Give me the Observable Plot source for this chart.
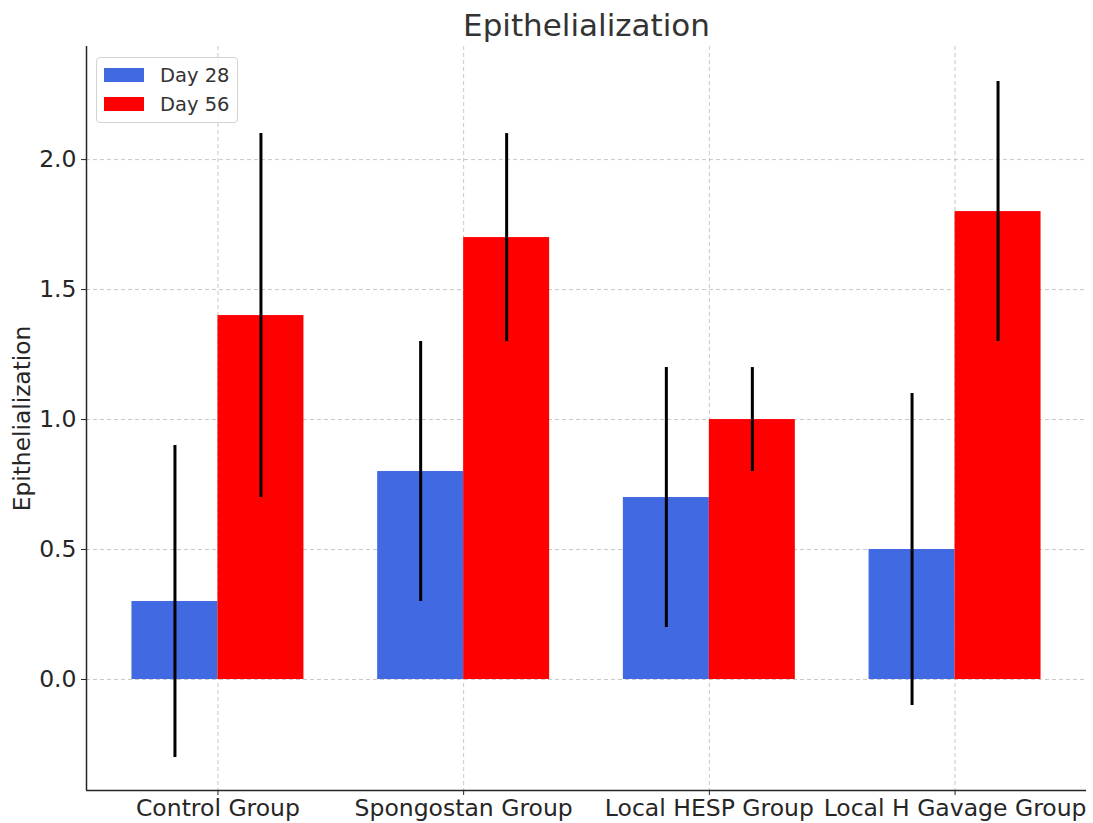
<!DOCTYPE html>
<html><head><meta charset="utf-8">
<script src="https://cdn.jsdelivr.net/npm/d3@7"></script>
<script src="https://cdn.jsdelivr.net/npm/@observablehq/plot@0.6"></script>
<style>
body{margin:0;background:#fff;font-family:"DejaVu Sans",sans-serif;}
#wrap{position:relative;width:1093px;height:823px;}
#legend{position:absolute;left:96px;top:57px;width:140px;height:64px;border:1px solid #d4d4d4;border-radius:4px;background:rgba(255,255,255,0.8);font-size:19.5px;color:#333;}
.item{position:absolute;left:7px;height:14px;display:flex;align-items:center;}
.sw{width:40px;height:14px;margin-right:16px;flex:none;}
</style></head><body>
<div id="wrap"><div id="chart"></div>
<div id="legend"><div class="item" style="top:10px"><div class="sw" style="background:#4169e1"></div>Day 28</div>
<div class="item" style="top:39px"><div class="sw" style="background:#ff0000"></div>Day 56</div></div></div>
<script>
const categories = ["Control Group","Spongostan Group","Local HESP Group","Local H Gavage Group"];
const day28 = [0.3,0.8,0.7,0.5];
const day28err = [0.6,0.5,0.5,0.6];
const day56 = [1.4,1.7,1.0,1.8];
const day56err = [0.7,0.4,0.2,0.5];
const yTicks = [0,0.5,1.0,1.5,2.0];
const barW = 0.35;

const data = [];
categories.forEach((c,i)=>{
  data.push({cat:c,i,series:"Day 28",v:day28[i],e:day28err[i],x1:i-barW,x2:i,xc:i-barW/2});
  data.push({cat:c,i,series:"Day 56",v:day56[i],e:day56err[i],x1:i,x2:i+barW,xc:i+barW/2});
});
const textColor = "#262626";
const chart = Plot.plot({
  width:1093,height:823,
  marginLeft:86,marginRight:7,marginTop:46,marginBottom:33,
  style:{fontFamily:"DejaVu Sans, sans-serif",fontSize:"23.5px",color:textColor,background:"#fff"},
  x:{domain:[-0.535,3.535],label:null},
  y:{domain:[-0.427,2.435],label:null},
  color:{domain:["Day 28","Day 56"],range:["#4169e1","#ff0000"]},
  marks:[
    Plot.gridX([0,1,2,3],{stroke:"#b0b0b0",strokeOpacity:0.7,strokeDasharray:"4,3"}),
    Plot.gridY(yTicks,{stroke:"#b0b0b0",strokeOpacity:0.7,strokeDasharray:"4,3"}),
    Plot.rect(data,{x1:"x1",x2:"x2",y1:0,y2:"v",fill:"series"}),
    Plot.ruleX(data,{x:"xc",y1:d=>d.v-d.e,y2:d=>d.v+d.e,stroke:"black",strokeWidth:3}),
    Plot.axisX({ticks:[0,1,2,3],tickFormat:i=>categories[i],fontSize:23.5,tickSize:5,tickPadding:4,label:null}),
    Plot.axisY({ticks:yTicks,tickFormat:d3.format(".1f"),fontSize:23.5,tickSize:5,tickPadding:5,label:null}),
    Plot.ruleX([-0.535],{stroke:textColor,strokeWidth:1.5}),
    Plot.ruleY([-0.427],{stroke:textColor,strokeWidth:1.5}),
    Plot.text(["Epithelialization"],{frameAnchor:"top",dy:-33,fontSize:31,fill:"#333"}),
    Plot.text(["Epithelialization"],{frameAnchor:"left",dx:-64,rotate:-90,textAnchor:"middle",fontSize:23.3,fill:textColor})
  ]
});
document.getElementById("chart").appendChild(chart);
</script></body></html>
